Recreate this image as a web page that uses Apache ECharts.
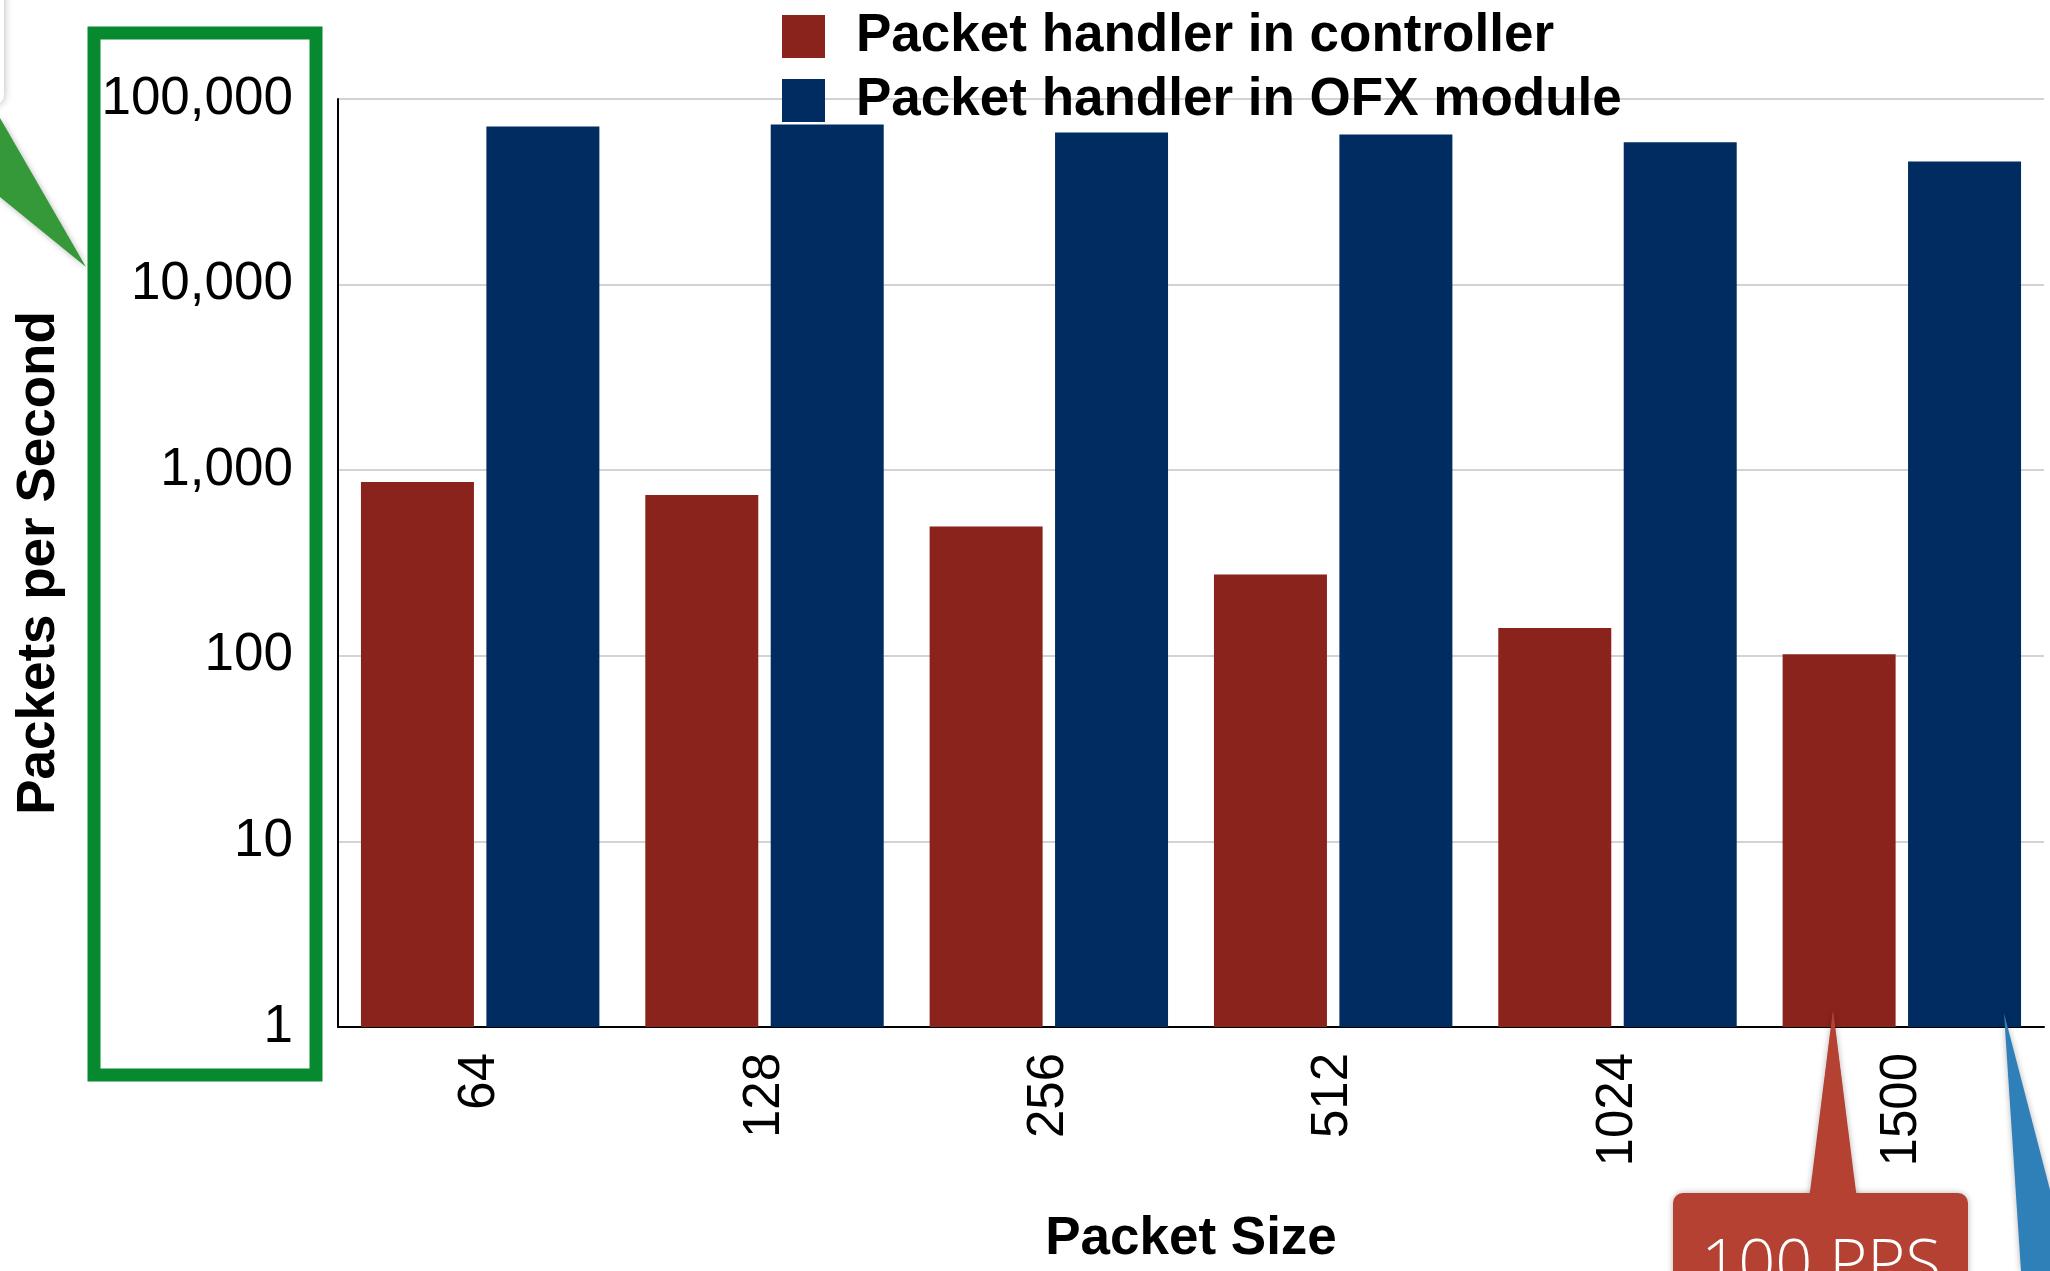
<!DOCTYPE html>
<html>
<head>
<meta charset="utf-8">
<script src="https://cdn.jsdelivr.net/npm/echarts@6/dist/echarts.min.js"></script>
<style>
  html, body { margin: 0; padding: 0; background: #fff; }
  #container { width: 2050px; height: 1271px; }
</style>
</head>
<body>
<div id="container"></div>
<script>
var packetSizes = ['64', '128', '256', '512', '1024', '1500'];
var controllerPps = [865, 736, 497, 274, 141, 102];
var ofxPps = [71000, 72800, 65900, 64400, 58400, 46100];
var yTickLabels = ['1', '10', '100', '1,000', '10,000', '100,000'];

var FONT = '"Liberation Sans", Arial, Helvetica, sans-serif';

!(function () {
    printChart();
}());

function printChart() {
    var dom = document.getElementById('container');
    var myChart = echarts.init(dom);
    var option = {
        animation: false,
        backgroundColor: '#fff',
        legend: {
            orient: 'vertical',
            left: 777,
            top: 5,
            itemWidth: 43,
            itemHeight: 43,
            itemGap: 11,
            icon: 'rect',
            data: ['Packet handler in controller', 'Packet handler in OFX module'],
            textStyle: {
                fontFamily: FONT,
                fontWeight: 'bold',
                fontSize: 53,
                color: '#000',
                padding: [0, 0, 0, 26]
            }
        },
        grid: {
            left: 338,
            right: 6,
            top: 99,
            bottom: 244
        },
        xAxis: {
            type: 'category',
            data: packetSizes,
            name: 'Packet Size',
            nameLocation: 'middle',
            nameGap: 186,
            nameTextStyle: { fontFamily: FONT, fontWeight: 'bold', fontSize: 53, color: '#000' },
            axisLine: { lineStyle: { color: '#000', width: 2 } },
            axisTick: { show: false },
            axisLabel: { rotate: 90, margin: 26, fontFamily: FONT, fontSize: 51, color: '#000' }
        },
        yAxis: {
            type: 'log',
            logBase: 10,
            min: 1,
            max: 100000,
            name: 'Packets per Second',
            nameLocation: 'middle',
            nameGap: 272,
            nameTextStyle: { fontFamily: FONT, fontWeight: 'bold', fontSize: 53, color: '#000' },
            axisLine: { show: true, lineStyle: { color: '#000', width: 2 } },
            axisTick: { show: false },
            splitLine: { lineStyle: { color: '#c4c4c4', width: 1.5 } },
            axisLabel: {
                margin: 45, fontFamily: FONT, fontSize: 53, color: '#000',
                padding: [8, 0, 0, 0],
                formatter: function (v) {
                    return yTickLabels[Math.round(Math.log10(v))];
                }
            }
        },
        series: [
            {
                name: 'Packet handler in controller',
                type: 'bar',
                color: '#8a231c',
                barWidth: 113,
                barGap: '11%',
                data: controllerPps
            },
            {
                name: 'Packet handler in OFX module',
                type: 'bar',
                color: '#002c61',
                barWidth: 113,
                barGap: '11%',
                data: ofxPps
            }
        ],
        graphic: [
            // white callout edge in the top-left corner
            {
                type: 'rect', z: 20,
                shape: { x: -400, y: -400, width: 404, height: 505, r: 10 },
                style: { fill: '#fff', shadowBlur: 8, shadowColor: 'rgba(0,0,0,0.3)' }
            },
            // green pointer
            {
                type: 'polygon', z: 21,
                shape: { points: [[0, 118], [86, 267], [0, 197]] },
                style: { fill: '#35993a', shadowBlur: 6, shadowColor: 'rgba(0,0,0,0.3)' }
            },
            // green box around the y labels
            {
                type: 'rect', z: 22,
                shape: { x: 94, y: 33, width: 222, height: 1042 },
                style: { fill: 'none', stroke: '#07892f', lineWidth: 13 }
            },
            // red callout
            {
                type: 'polygon', z: 21,
                shape: { points: [[1809, 1200], [1833, 1010], [1857, 1200]] },
                style: { fill: '#b44132', shadowBlur: 6, shadowColor: 'rgba(0,0,0,0.3)' }
            },
            {
                type: 'rect', z: 21,
                shape: { x: 1673, y: 1193, width: 295, height: 140, r: 10 },
                style: { fill: '#b44132', shadowBlur: 6, shadowColor: 'rgba(0,0,0,0.3)' }
            },
            {
                type: 'polygon', z: 22,
                shape: { points: [[1810, 1198], [1833, 1012], [1856, 1198]] },
                style: { fill: '#b44132' }
            },
            {
                type: 'text', z: 23,
                x: 1821, y: 1266,
                style: {
                    text: '100 PPS', fill: '#fff', fontFamily: '"Open Sans", ' + FONT,
                    fontWeight: 300, fontSize: 65, align: 'center', verticalAlign: 'middle'
                }
            },
            // blue pointer
            {
                type: 'polygon', z: 21,
                shape: { points: [[2004, 1013], [2050, 1190], [2050, 1271], [2021, 1271]] },
                style: { fill: '#2f7fb8', shadowBlur: 6, shadowColor: 'rgba(0,0,0,0.3)' }
            }
        ]
    };
    if (option && typeof option === 'object') {
        myChart.setOption(option, true);
    }
}
</script>
</body>
</html>
